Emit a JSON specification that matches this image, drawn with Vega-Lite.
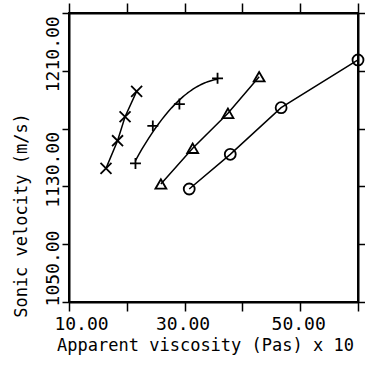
{
  "$schema": "https://vega.github.io/schema/vega-lite/v6.json",
  "autosize": "none",
  "padding": {"left": 69, "top": 13, "right": 7, "bottom": 65},
  "width": 289,
  "height": 289,
  "background": "white",
  "config": {
    "view": {"stroke": "black", "strokeWidth": 2},
    "font": "DejaVu Sans Mono",
    "axis": {
      "grid": false,
      "labelFlush": false,
      "domainColor": "black",
      "domainWidth": 2,
      "tickColor": "black",
      "tickWidth": 1.5,
      "labelColor": "black",
      "titleColor": "black",
      "labelFont": "DejaVu Sans Mono",
      "titleFont": "DejaVu Sans Mono",
      "titleFontWeight": "normal",
      "labelFontSize": 18,
      "titleFontSize": 17
    }
  },
  "data": {
    "values": [
      {"series": "x", "viscosity": 16.4, "velocity": 1142.5},
      {"series": "x", "viscosity": 18.4, "velocity": 1161.6},
      {"series": "x", "viscosity": 19.7, "velocity": 1178.2},
      {"series": "x", "viscosity": 21.7, "velocity": 1195.8},
      {"series": "plus", "viscosity": 21.5, "velocity": 1145.9},
      {"series": "plus", "viscosity": 24.5, "velocity": 1171.9},
      {"series": "plus", "viscosity": 29.1, "velocity": 1187.0},
      {"series": "plus", "viscosity": 35.7, "velocity": 1204.8},
      {"series": "tri", "viscosity": 25.9, "velocity": 1131.7},
      {"series": "tri", "viscosity": 31.4, "velocity": 1156.4},
      {"series": "tri", "viscosity": 37.5, "velocity": 1180.6},
      {"series": "tri", "viscosity": 42.9, "velocity": 1205.9},
      {"series": "circle", "viscosity": 30.8, "velocity": 1128.2},
      {"series": "circle", "viscosity": 37.9, "velocity": 1152.2},
      {"series": "circle", "viscosity": 46.7, "velocity": 1184.5},
      {"series": "circle", "viscosity": 60.0, "velocity": 1217.5}
    ]
  },
  "layer": [
    {
      "transform": [{"filter": "datum.series != 'plus'"}],
      "mark": {"type": "line", "color": "black", "strokeWidth": 1.5, "interpolate": "linear"},
      "encoding": {
        "x": {
          "field": "viscosity", "type": "quantitative",
          "scale": {"domain": [10, 60], "nice": false, "zero": false},
          "axis": {
            "orient": "bottom",
            "values": [10, 20, 30, 40, 50, 60],
            "labelExpr": "datum.value % 20 == 10 ? format(datum.value, '.2f') : ''",
            "tickSize": 9,
            "labelPadding": 4,
            "labelOffset": {"condition": {"test": "datum.value == 10", "value": 12}, "value": -2},
            "title": "Apparent viscosity (Pas) x 10",
            "titlePadding": 4,
            "titleX": 136
          }
        },
        "y": {
          "field": "velocity", "type": "quantitative",
          "scale": {"domain": [1050, 1250], "nice": false, "zero": false},
          "axis": {
            "orient": "left",
            "values": [1050, 1090, 1130, 1170, 1210, 1250],
            "labelExpr": "(datum.value - 1050) % 80 == 0 && datum.value < 1250 ? format(datum.value, '.2f') : ''",
            "labelAngle": -90,
            "labelAlign": "center",
            "tickSize": 7,
            "labelPadding": 0,
            "labelOffset": {"condition": {"test": "datum.value == 1050", "value": -34}, "value": -17},
            "title": "Sonic velocity (m/s)",
            "titlePadding": 14,
            "titleY": 202
          }
        },
        "detail": {"field": "series"}
      }
    },
    {
      "transform": [
        {"filter": "datum.series == 'plus'"},
        {"regression": "velocity", "on": "viscosity", "method": "poly", "order": 2}
      ],
      "mark": {"type": "line", "color": "black", "strokeWidth": 1.5},
      "encoding": {
        "x": {"field": "viscosity", "type": "quantitative", "axis": null},
        "y": {"field": "velocity", "type": "quantitative", "axis": null}
      }
    },
    {
      "mark": {"type": "point", "filled": false, "stroke": "black", "strokeWidth": 1.8, "size": 120, "opacity": 1},
      "encoding": {
        "x": {
          "field": "viscosity", "type": "quantitative",
          "axis": {"orient": "top", "values": [10, 20, 30, 40, 50, 60], "labels": false, "title": null, "tickSize": 10}
        },
        "y": {
          "field": "velocity", "type": "quantitative",
          "axis": {"orient": "right", "values": [1050, 1090, 1130, 1170, 1210, 1250], "labels": false, "title": null, "tickSize": 7}
        },
        "shape": {
          "field": "series", "type": "nominal",
          "scale": {
            "domain": ["x", "plus", "tri", "circle"],
            "range": ["M-1,-1L1,1M-1,1L1,-1", "M-1,0H1M0,-1V1", "triangle-up", "circle"]
          },
          "legend": null
        }
      }
    }
  ],
  "resolve": {"axis": {"x": "independent", "y": "independent"}}
}
